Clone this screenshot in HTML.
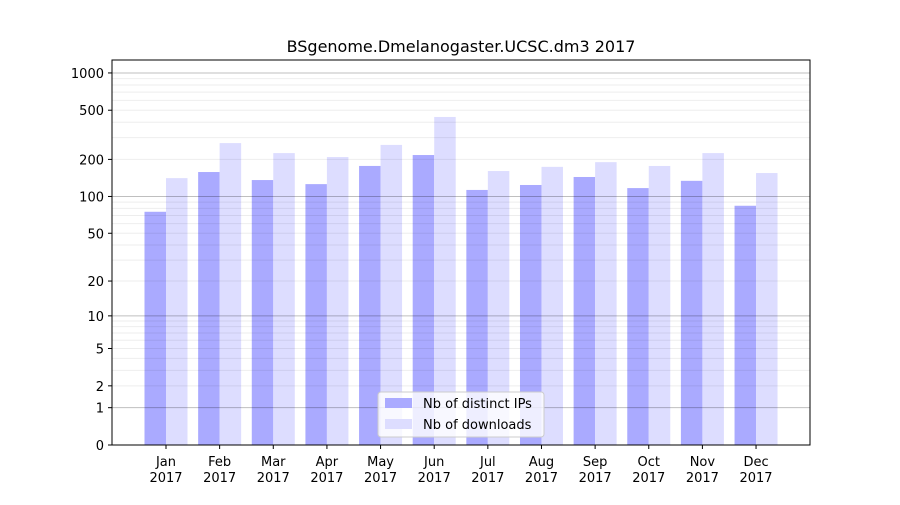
<!DOCTYPE html>
<html><head><meta charset="utf-8"><style>
body{margin:0;background:#fff;font-family:"Liberation Sans","DejaVu Sans",sans-serif}
svg text{font-family:"DejaVu Sans","Liberation Sans",sans-serif}
</style></head><body>
<svg id="chart" width="900" height="500" xmlns="http://www.w3.org/2000/svg">
<rect width="900" height="500" fill="#fff"/>
<text x="461" y="52" font-size="16" text-anchor="middle">BSgenome.Dmelanogaster.UCSC.dm3 2017</text>
<g id="bars"></g><g id="grid"></g><g id="axes"></g>
<rect x="112" y="60" width="698" height="385" fill="none" stroke="#000" stroke-width="1"/>
<g>
<rect x="378" y="392" width="166" height="45" rx="3" fill="#fff" fill-opacity="0.8" stroke="#ccc"/>
<rect x="385" y="398" width="27" height="10" fill="#aaaaff"/>
<text x="423" y="408" font-size="13">Nb of distinct IPs</text>
<rect x="385" y="419" width="27" height="10" fill="#ddddff"/>
<text x="423" y="429" font-size="13">Nb of downloads</text>
</g>
</svg>
<script>
const months=["Jan","Feb","Mar","Apr","May","Jun","Jul","Aug","Sep","Oct","Nov","Dec"];
const ips=[75,158,136,126,177,217,113,124,144,117,134,84];
const downloads=[141,271,225,209,262,441,161,174,190,177,225,155];
const yTicks=[0,1,2,5,10,20,50,100,200,500,1000];
const NS="http://www.w3.org/2000/svg";
function y(v){return 445-124*Math.log10(1+v);}
function x(i){return 166+i*53.64;}
function mk(t,a,p){const e=document.createElementNS(NS,t);for(const k in a)e.setAttribute(k,a[k]);p.appendChild(e);return e;}
const bars=document.getElementById('bars'),grid=document.getElementById('grid'),axes=document.getElementById('axes');
months.forEach((m,i)=>{
 const b1=mk('rect',{x:x(i)-21.5,y:y(ips[i]),width:21.5,height:445-y(ips[i]),fill:'#aaaaff'},bars);
 
 
 const b2=mk('rect',{x:x(i),y:y(downloads[i]),width:21.5,height:445-y(downloads[i]),fill:'#ddddff'},bars);
 
 
 mk('line',{x1:x(i),x2:x(i),y1:445,y2:449,stroke:'#000'},axes);
 const t=mk('text',{x:x(i),y:466,'font-size':13,'text-anchor':'middle'},axes);
 
 
 t.textContent=m;
 const t2=mk('text',{x:x(i),y:482,'font-size':13,'text-anchor':'middle'},axes);
 
 
 t2.textContent='2017';
});
for(let d=1;d<=1000;d*=10){for(let k=1;k<10;k++){const v=d*k;if(v>1000)break;
 const yy=y(v);mk('line',{x1:112,x2:810,y1:yy,y2:yy,stroke:'#000','stroke-opacity':k==1?0.25:0.07},grid);}}
yTicks.forEach(v=>{const yy=y(v);
 mk('line',{x1:108,x2:112,y1:yy,y2:yy,stroke:'#000'},axes);
 const t=mk('text',{x:104,y:yy+5,'font-size':13,'text-anchor':'end'},axes);
 
 
 t.textContent=v;});
</script>
</body></html>
